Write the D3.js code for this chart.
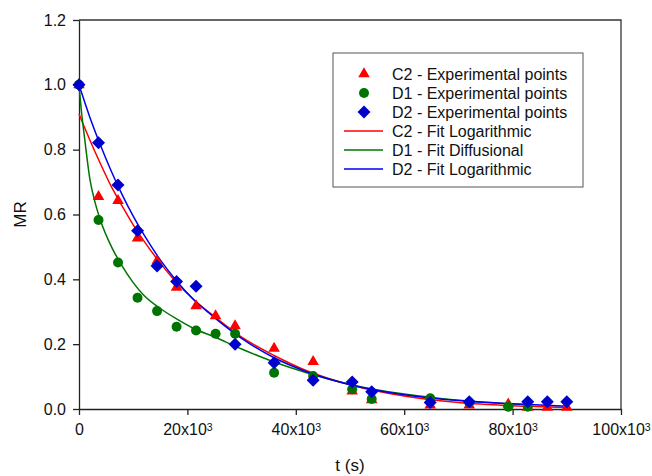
<!DOCTYPE html>
<html>
<head>
<meta charset="utf-8">
<script src="https://cdn.jsdelivr.net/npm/d3@7"></script>
<style>
  body { margin: 0; background: #fff; }
  svg { display: block; font-family: "Liberation Sans", Arial, sans-serif; }
  .axis path, .axis line { stroke: #222; stroke-width: 1.3; }
  .axis text { font-size: 16px; fill: #111; }
</style>
</head>
<body>
<svg id="chart" width="652" height="476"></svg>
<script>
// Experimental times (s)
const tC2 = [0, 3600, 7200, 10800, 14400, 18000, 21600, 25200, 28800, 36000, 43200, 50400, 54000, 64800, 72000, 79200, 82800, 86400, 90000];
const mrC2 = [1.0, 0.655, 0.643, 0.527, 0.456, 0.375, 0.318, 0.287, 0.256, 0.187, 0.146, 0.055, 0.028, 0.012, 0.012, 0.015, 0.005, 0.005, 0.005];

const tD1 = [0, 3600, 7200, 10800, 14400, 18000, 21600, 25200, 28800, 36000, 43200, 50400, 54000, 64800, 72000, 79200, 82800];
const mrD1 = [1.0, 0.583, 0.452, 0.343, 0.302, 0.254, 0.242, 0.232, 0.232, 0.112, 0.102, 0.061, 0.031, 0.033, 0.02, 0.007, 0.007];

const tD2 = [0, 3600, 7200, 10800, 14400, 18000, 21600, 28800, 36000, 43200, 50400, 54000, 64800, 72000, 82800, 86400, 90000];
const mrD2 = [1.0, 0.821, 0.691, 0.55, 0.441, 0.393, 0.379, 0.2, 0.143, 0.089, 0.083, 0.053, 0.02, 0.022, 0.022, 0.022, 0.022];

// Fitted curves
const tFit = [0, 2000, 4000, 6000, 8000, 10000, 12000, 15000, 18000, 21000, 25000, 30000, 36000, 42000, 50000, 60000, 70000, 80000, 90000];
const fitC2 = [0.91, 0.83, 0.755, 0.685, 0.625, 0.568, 0.518, 0.45, 0.39, 0.34, 0.285, 0.222, 0.165, 0.118, 0.075, 0.04, 0.02, 0.01, 0.005];
const fitD2 = [1.0, 0.9, 0.812, 0.732, 0.66, 0.595, 0.537, 0.46, 0.395, 0.34, 0.282, 0.218, 0.158, 0.115, 0.075, 0.044, 0.026, 0.016, 0.009];

const tFitD1 = [0, 500, 1000, 2000, 3000, 4000, 6000, 8000, 10000, 12000, 15000, 18000, 21000, 25000, 30000, 36000, 42000, 50000, 60000, 70000, 82800];
const fitD1 = [1.0, 0.91, 0.84, 0.71, 0.635, 0.58, 0.5, 0.44, 0.39, 0.35, 0.31, 0.278, 0.25, 0.222, 0.185, 0.145, 0.112, 0.076, 0.046, 0.027, 0.013];

const xTicks = [0, 20000, 40000, 60000, 80000, 100000];
const yTicks = [0, 0.2, 0.4, 0.6, 0.8, 1.0, 1.2];

const legendItems = [
  { label: "C2 - Experimental points", kind: "tri" },
  { label: "D1 - Experimental points", kind: "circle" },
  { label: "D2 - Experimental points", kind: "diamond" },
  { label: "C2 - Fit Logarithmic", kind: "lineC2" },
  { label: "D1 - Fit Diffusional", kind: "lineD1" },
  { label: "D2 - Fit Logarithmic", kind: "lineD2" }
];

const RED = "#ff0000", GREEN = "#007400", BLUE = "#0000cc", BLUE_LINE = "#0000ee";

const W = 652, H = 476;
const margin = { top: 20, right: 31, bottom: 67, left: 79 };
const iw = W - margin.left - margin.right;
const ih = H - margin.top - margin.bottom;

const svg = d3.select("#chart");
const g = svg.append("g").attr("transform", `translate(${margin.left},${margin.top})`);

const x = d3.scaleLinear().domain([0, 100000]).range([0, iw]);
const y = d3.scaleLinear().domain([0, 1.2]).range([ih, 0]);

// frame (top / right)
g.append("path")
  .attr("d", `M0,0H${iw}V${ih}`)
  .attr("fill", "none").attr("stroke", "#333").attr("stroke-width", 1.3);

// axes
const xAxis = g.append("g").attr("class", "axis")
  .attr("transform", `translate(0,${ih})`)
  .call(d3.axisBottom(x).tickValues(xTicks).tickSize(6).tickSizeOuter(0).tickPadding(9));
xAxis.selectAll("text").each(function(d) {
  const t = d3.select(this).text(null);
  if (d === 0) { t.text("0"); return; }
  t.append("tspan").text((d / 1000) + "x10");
  t.append("tspan").attr("dy", "-0.45em").attr("font-size", "10.5px").text("3");
});

g.append("g").attr("class", "axis")
  .call(d3.axisLeft(y).tickValues(yTicks).tickSize(6).tickSizeOuter(0).tickPadding(7).tickFormat(d3.format(".1f")));

// axis titles
svg.append("text")
  .attr("x", margin.left + iw / 2).attr("y", 471)
  .attr("text-anchor", "middle").attr("font-size", "17px").attr("fill", "#111")
  .text("t (s)");
svg.append("text")
  .attr("transform", `translate(26,${margin.top + ih / 2}) rotate(-90)`)
  .attr("text-anchor", "middle").attr("font-size", "17px").attr("fill", "#111")
  .text("MR");

// fit lines
const line = d3.line().x(d => x(d[0])).y(d => y(d[1])).curve(d3.curveMonotoneX);
const fits = [
  { t: tFit, v: fitC2, c: RED },
  { t: tFitD1, v: fitD1, c: GREEN },
  { t: tFit, v: fitD2, c: BLUE_LINE }
];
fits.forEach(f => {
  g.append("path")
    .datum(d3.zip(f.t, f.v))
    .attr("d", line)
    .attr("fill", "none").attr("stroke", f.c).attr("stroke-width", 1.5);
});

// markers
const triSym = d3.symbol().type(d3.symbolTriangle).size(58);
const dia = r => `M0,${-r}L${r},0L0,${r}L${-r},0Z`;

g.append("g").selectAll("path")
  .data(d3.zip(tC2, mrC2))
  .join("path")
  .attr("transform", d => `translate(${x(d[0])},${y(d[1])})`)
  .attr("d", triSym).attr("fill", RED);

g.append("g").selectAll("circle")
  .data(d3.zip(tD1, mrD1))
  .join("circle")
  .attr("cx", d => x(d[0])).attr("cy", d => y(d[1])).attr("r", 5)
  .attr("fill", GREEN);

g.append("g").selectAll("path")
  .data(d3.zip(tD2, mrD2))
  .join("path")
  .attr("transform", d => `translate(${x(d[0])},${y(d[1])})`)
  .attr("d", dia(6.5)).attr("fill", BLUE);

// legend
const lg = svg.append("g").attr("transform", "translate(333,53)");
lg.append("rect")
  .attr("width", 250).attr("height", 134)
  .attr("fill", "#fff").attr("stroke", "#555").attr("stroke-width", 1);

const rows = lg.selectAll("g.row").data(legendItems).join("g")
  .attr("class", "row")
  .attr("transform", (d, i) => `translate(0,${21 + i * 19})`);

rows.each(function(d) {
  const r = d3.select(this);
  if (d.kind === "tri") r.append("path").attr("transform", "translate(31,0)").attr("d", triSym).attr("fill", RED);
  if (d.kind === "circle") r.append("circle").attr("cx", 31).attr("r", 5).attr("fill", GREEN);
  if (d.kind === "diamond") r.append("path").attr("transform", "translate(31,0)").attr("d", dia(6.5)).attr("fill", BLUE);
  const lc = { lineC2: RED, lineD1: GREEN, lineD2: BLUE_LINE }[d.kind];
  if (lc) r.append("line").attr("x1", 11).attr("x2", 50).attr("stroke", lc).attr("stroke-width", 1.5);
});
rows.append("text")
  .attr("x", 59).attr("dy", "0.35em")
  .attr("font-size", "16px").attr("fill", "#111")
  .text(d => d.label);
</script>
</body>
</html>
